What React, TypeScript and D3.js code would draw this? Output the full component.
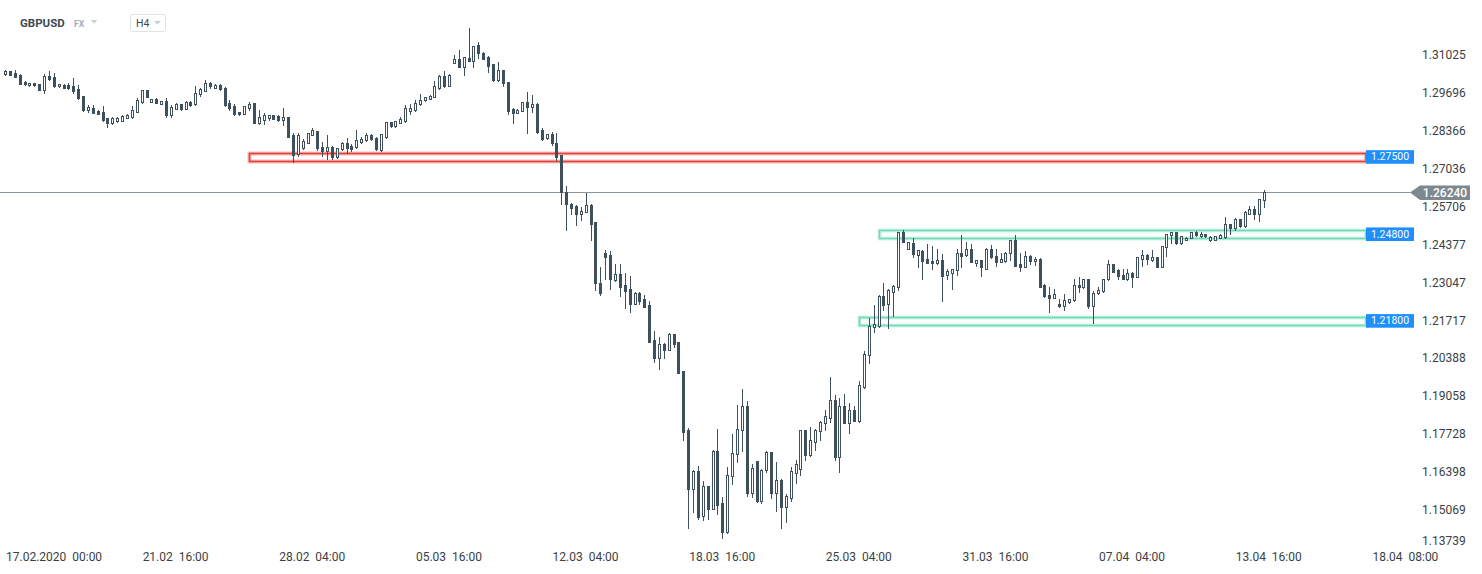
import React from 'react';
import * as d3 from 'd3';

// ---------- DATA ----------
const OPEN = [
1.3037,1.3046,1.3040,1.3033,1.3009,1.2997,1.3005,1.3001,1.2980,1.3029,
1.3026,1.2993,1.2999,1.2999,1.2994,1.2984,1.2959,1.2910,1.2919,1.2907,
1.2903,1.2881,1.2865,1.2872,1.2872,1.2883,1.2886,1.2904,1.2939,1.2979,
1.2939,1.2949,1.2932,1.2942,1.2892,1.2915,1.2931,1.2915,1.2940,1.2932,
1.2965,1.2978,1.3005,1.2988,1.2998,1.2988,1.2935,1.2924,1.2903,1.2898,
1.2916,1.2934,1.2865,1.2875,1.2883,1.2891,1.2889,1.2876,1.2885,1.2822,
1.2755,1.2777,1.2795,1.2823,1.2836,1.2780,1.2768,1.2780,1.2744,1.2772,
1.2796,1.2784,1.2779,1.2799,1.2804,1.2823,1.2813,1.2770,1.2815,1.2868,
1.2853,1.2866,1.2871,1.2907,1.2910,1.2930,1.2944,1.2950,1.2957,1.2987,
1.3029,1.2995,1.3076,1.3088,1.3062,1.3092,1.3083,1.3138,1.3111,1.3096,
1.3071,1.3015,1.3050,1.3008,1.2915,1.2900,1.2907,1.2938,1.2922,1.2933,
1.2840,1.2811,1.2826,1.2796,1.2752,1.2623,1.2582,1.2573,1.2547,1.2553,
1.2576,1.2516,1.2305,1.2408,1.2401,1.2313,1.2334,1.2296,1.2281,1.2231,
1.2267,1.2247,1.2225,1.2103,1.2042,1.2091,1.2070,1.2124,1.2096,1.1994,
1.1787,1.1582,1.1643,1.1485,1.1590,1.1512,1.1713,1.1533,1.1430,1.1625,
1.1705,1.1789,1.1873,1.1567,1.1678,1.1539,1.1649,1.1710,1.1567,1.1614,
1.1518,1.1550,1.1637,1.1652,1.1787,1.1699,1.1746,1.1784,1.1812,1.1831,
1.1892,1.1693,1.1871,1.1814,1.1857,1.1818,1.1937,1.2050,1.2149,1.2152,
1.2257,1.2229,1.2272,1.2288,1.2483,1.2424,1.2444,1.2403,1.2416,1.2387,
1.2380,1.2372,1.2383,1.2333,1.2337,1.2348,1.2407,1.2401,1.2424,1.2372,
1.2383,1.2354,1.2424,1.2397,1.2377,1.2380,1.2407,1.2453,1.2369,1.2360,
1.2397,1.2381,1.2389,1.2296,1.2263,1.2252,1.2231,1.2222,1.2237,1.2243,
1.2298,1.2288,1.2317,1.2223,1.2267,1.2275,1.2316,1.2369,1.2348,1.2333,
1.2317,1.2340,1.2325,1.2389,1.2401,1.2383,1.2393,1.2360,1.2428,1.2471,
1.2482,1.2442,1.2456,1.2463,1.2481,1.2468,1.2475,1.2454,1.2456,1.2463,
1.2465,1.2510,1.2497,1.2527,1.2503,1.2547,1.2562,1.2547,1.2594];

const HIGH = [
1.3051,1.3047,1.3050,1.3035,1.3012,1.3006,1.3006,1.3003,1.3036,1.3047,
1.3040,1.3003,1.3000,1.3004,1.3022,1.2998,1.2961,1.2927,1.2927,1.2909,
1.2924,1.2882,1.2884,1.2886,1.2891,1.2895,1.2924,1.2953,1.2981,1.2981,
1.2950,1.2952,1.2943,1.2952,1.2927,1.2935,1.2933,1.2942,1.2942,1.2995,
1.2988,1.3015,1.3008,1.3001,1.3000,1.2990,1.2947,1.2930,1.2905,1.2926,
1.2937,1.2936,1.2912,1.2900,1.2893,1.2893,1.2892,1.2916,1.2887,1.2830,
1.2830,1.2807,1.2830,1.2846,1.2838,1.2799,1.2822,1.2784,1.2777,1.2798,
1.2811,1.2791,1.2840,1.2816,1.2829,1.2825,1.2814,1.2827,1.2869,1.2869,
1.2872,1.2886,1.2927,1.2933,1.2945,1.2966,1.2957,1.2963,1.3012,1.3033,
1.3048,1.3035,1.3104,1.3121,1.3097,1.3198,1.3136,1.3149,1.3113,1.3098,
1.3073,1.3079,1.3052,1.3010,1.2916,1.2914,1.2940,1.2974,1.2963,1.2935,
1.2846,1.2827,1.2834,1.2828,1.2754,1.2643,1.2584,1.2576,1.2571,1.2618,
1.2582,1.2517,1.2358,1.2419,1.2415,1.2369,1.2369,1.2337,1.2327,1.2271,
1.2272,1.2263,1.2240,1.2135,1.2114,1.2093,1.2127,1.2125,1.2097,1.1996,
1.1796,1.1649,1.1660,1.1608,1.1592,1.1716,1.1790,1.1553,1.1658,1.1773,
1.1874,1.1930,1.1890,1.1670,1.1680,1.1650,1.1714,1.1711,1.1674,1.1615,
1.1562,1.1658,1.1683,1.1789,1.1789,1.1798,1.1791,1.1819,1.1857,1.1974,
1.1910,1.1901,1.1913,1.1882,1.1871,1.1960,1.2065,1.2182,1.2225,1.2261,
1.2304,1.2281,1.2295,1.2484,1.2490,1.2447,1.2463,1.2420,1.2418,1.2440,
1.2434,1.2424,1.2404,1.2354,1.2353,1.2421,1.2471,1.2446,1.2440,1.2385,
1.2385,1.2426,1.2436,1.2421,1.2409,1.2411,1.2455,1.2471,1.2407,1.2416,
1.2401,1.2393,1.2391,1.2300,1.2288,1.2284,1.2249,1.2264,1.2248,1.2319,
1.2323,1.2318,1.2318,1.2275,1.2288,1.2318,1.2383,1.2371,1.2352,1.2352,
1.2352,1.2342,1.2395,1.2418,1.2404,1.2418,1.2395,1.2434,1.2476,1.2483,
1.2483,1.2469,1.2465,1.2483,1.2485,1.2482,1.2476,1.2467,1.2470,1.2475,
1.2535,1.2511,1.2533,1.2529,1.2556,1.2574,1.2574,1.2598,1.2629];

const LOW = [
1.3034,1.3033,1.3026,1.3001,1.2998,1.2995,1.2994,1.2979,1.2971,1.3015,
1.2990,1.2990,1.2986,1.2984,1.2971,1.2949,1.2908,1.2904,1.2899,1.2897,
1.2872,1.2849,1.2861,1.2869,1.2871,1.2881,1.2882,1.2902,1.2935,1.2955,
1.2937,1.2934,1.2930,1.2886,1.2886,1.2913,1.2910,1.2913,1.2926,1.2929,
1.2961,1.2976,1.2988,1.2986,1.2981,1.2926,1.2912,1.2894,1.2893,1.2897,
1.2912,1.2864,1.2860,1.2862,1.2875,1.2878,1.2873,1.2859,1.2814,1.2727,
1.2750,1.2772,1.2793,1.2821,1.2770,1.2748,1.2740,1.2738,1.2742,1.2770,
1.2760,1.2766,1.2777,1.2795,1.2802,1.2805,1.2771,1.2768,1.2813,1.2852,
1.2852,1.2865,1.2867,1.2898,1.2908,1.2928,1.2942,1.2948,1.2955,1.2985,
1.2992,1.2993,1.3074,1.3060,1.3033,1.3081,1.3062,1.3091,1.3088,1.3042,
1.3013,1.3013,1.2993,1.2895,1.2863,1.2899,1.2906,1.2828,1.2904,1.2828,
1.2805,1.2809,1.2787,1.2734,1.2582,1.2489,1.2547,1.2506,1.2524,1.2551,
1.2455,1.2278,1.2263,1.2319,1.2284,1.2311,1.2257,1.2215,1.2202,1.2229,
1.2229,1.2218,1.2095,1.2026,1.2003,1.2042,1.2068,1.2079,1.1986,1.1752,
1.1445,1.1500,1.1477,1.1471,1.1477,1.1510,1.1494,1.1410,1.1428,1.1600,
1.1675,1.1714,1.1556,1.1553,1.1537,1.1531,1.1640,1.1548,1.1503,1.1444,
1.1465,1.1539,1.1602,1.1629,1.1681,1.1697,1.1716,1.1752,1.1789,1.1816,
1.1684,1.1640,1.1812,1.1777,1.1818,1.1817,1.1935,1.2024,1.2132,1.2150,
1.2210,1.2144,1.2187,1.2278,1.2446,1.2423,1.2395,1.2360,1.2317,1.2372,
1.2354,1.2370,1.2241,1.2316,1.2284,1.2331,1.2358,1.2397,1.2376,1.2363,
1.2328,1.2353,1.2391,1.2363,1.2376,1.2378,1.2383,1.2362,1.2346,1.2358,
1.2369,1.2366,1.2288,1.2256,1.2202,1.2250,1.2220,1.2210,1.2235,1.2241,
1.2272,1.2286,1.2217,1.2163,1.2265,1.2273,1.2314,1.2341,1.2317,1.2317,
1.2313,1.2288,1.2323,1.2363,1.2369,1.2382,1.2358,1.2358,1.2399,1.2442,
1.2440,1.2440,1.2454,1.2461,1.2469,1.2466,1.2466,1.2452,1.2454,1.2461,
1.2463,1.2475,1.2489,1.2501,1.2501,1.2545,1.2527,1.2521,1.2571];

const CLOSE = [
1.3047,1.3034,1.3027,1.3002,1.3000,1.3005,1.2997,1.2981,1.3029,1.3019,
1.2993,1.3001,1.2988,1.2987,1.2978,1.2951,1.2910,1.2920,1.2900,1.2898,
1.2875,1.2865,1.2882,1.2882,1.2889,1.2893,1.2910,1.2945,1.2979,1.2957,
1.2949,1.2935,1.2942,1.2892,1.2920,1.2932,1.2913,1.2940,1.2929,1.2969,
1.2984,1.3005,1.2993,1.2998,1.2983,1.2927,1.2918,1.2896,1.2895,1.2924,
1.2933,1.2865,1.2884,1.2892,1.2891,1.2879,1.2875,1.2884,1.2816,1.2751,
1.2822,1.2800,1.2828,1.2839,1.2776,1.2766,1.2780,1.2744,1.2776,1.2796,
1.2778,1.2772,1.2805,1.2808,1.2823,1.2807,1.2773,1.2826,1.2868,1.2853,
1.2870,1.2878,1.2916,1.2919,1.2935,1.2947,1.2956,1.2961,1.2994,1.3029,
1.2994,1.3033,1.3088,1.3062,1.3095,1.3083,1.3135,1.3109,1.3090,1.3065,
1.3015,1.3050,1.3004,1.2907,1.2900,1.2912,1.2938,1.2922,1.2933,1.2834,
1.2808,1.2826,1.2793,1.2746,1.2623,1.2582,1.2567,1.2547,1.2555,1.2576,
1.2512,1.2302,1.2269,1.2395,1.2316,1.2334,1.2290,1.2276,1.2231,1.2269,
1.2241,1.2220,1.2097,1.2041,1.2091,1.2070,1.2124,1.2091,1.1988,1.1781,
1.1582,1.1643,1.1482,1.1590,1.1512,1.1713,1.1526,1.1430,1.1629,1.1708,
1.1793,1.1873,1.1567,1.1656,1.1539,1.1649,1.1710,1.1567,1.1614,1.1518,
1.1555,1.1643,1.1667,1.1787,1.1699,1.1752,1.1789,1.1817,1.1836,1.1892,
1.1693,1.1871,1.1814,1.1857,1.1819,1.1945,1.2053,1.2152,1.2158,1.2257,
1.2225,1.2278,1.2293,1.2483,1.2448,1.2446,1.2404,1.2418,1.2381,1.2375,
1.2372,1.2383,1.2328,1.2345,1.2351,1.2407,1.2399,1.2424,1.2377,1.2383,
1.2358,1.2424,1.2393,1.2377,1.2386,1.2409,1.2453,1.2363,1.2358,1.2397,
1.2381,1.2389,1.2290,1.2257,1.2251,1.2264,1.2222,1.2243,1.2247,1.2298,
1.2288,1.2317,1.2223,1.2270,1.2278,1.2317,1.2369,1.2342,1.2328,1.2319,
1.2340,1.2325,1.2393,1.2401,1.2387,1.2393,1.2360,1.2432,1.2475,1.2482,
1.2442,1.2468,1.2463,1.2482,1.2471,1.2475,1.2468,1.2465,1.2469,1.2472,
1.2510,1.2495,1.2527,1.2503,1.2553,1.2562,1.2545,1.2597,1.2624];

const PRICE_TICKS = [1.13739, 1.15069, 1.16398, 1.17728, 1.19058, 1.20388, 1.21717,
  1.23047, 1.24377, 1.25706, 1.27036, 1.28366, 1.29696, 1.31025];

const TIME_LABELS = ['17.02.2020  00:00', '21.02  16:00', '28.02  04:00', '05.03  16:00',
  '12.03  04:00', '18.03  16:00', '25.03  04:00', '31.03  16:00', '07.04  04:00',
  '13.04  16:00', '18.04  08:00'];
const TIME_LABEL_INDEX = [0, 28, 56, 84, 112, 140, 168, 196, 224, 252, 280];

const ZONE_LABELS = [1.275, 1.248, 1.218];
const ZONE_TOP = [1.2760, 1.2489, 1.2185];
const ZONE_BOTTOM = [1.2731, 1.2460, 1.2156];
const ZONE_START = [50, 179, 175];
const ZONE_KIND = ['resistance', 'support', 'support'];

const LAST_PRICE = 1.2624;

// ---------- STYLE ----------
const CANDLE = '#3f505d';
const FONT = 'Roboto, "Noto Sans", Arial, sans-serif';

export default function App() {
  const W = 1482;
  const H = 574;
  const x = d3.scaleLinear().domain([0, 280]).range([5, 5 + 280 * 4.88]);
  const y = d3
    .scaleLinear()
    .domain([PRICE_TICKS[0], PRICE_TICKS[PRICE_TICKS.length - 1]])
    .range([548, 55.2]);
  const fmt = d3.format('.5f');

  const zoneRight = 1366;
  const lastY = Math.round(y(LAST_PRICE)) + 0.5;

  const candles = OPEN.map((o, i) => {
    const c = CLOSE[i];
    const cx = Math.round(x(i));
    const up = c >= o;
    const yTop = Math.round(y(Math.max(o, c)));
    const yBot = Math.round(y(Math.min(o, c)));
    const yH = Math.round(y(HIGH[i]));
    const yL = Math.round(y(LOW[i]));
    return (
      <g key={i}>
        <line x1={cx + 0.5} x2={cx + 0.5} y1={yH} y2={yL + 1} stroke={CANDLE} strokeWidth={1} />
        {up ? (
          <rect
            x={cx - 0.5}
            y={yTop + 0.5}
            width={2}
            height={Math.max(1, yBot - yTop)}
            fill="#ffffff"
            stroke={CANDLE}
            strokeWidth={1}
          />
        ) : (
          <rect x={cx - 1} y={yTop} width={3} height={Math.max(1, yBot - yTop + 1)} fill={CANDLE} />
        )}
      </g>
    );
  });

  return (
    <svg
      width={W}
      height={H}
      style={{ position: 'absolute', left: 0, top: 0, background: '#ffffff', fontFamily: FONT }}
    >
      <rect x={0} y={0} width={W} height={H} fill="#ffffff" />

      {/* header */}
      <text x={20} y={27} fontSize={11.5} fontWeight={700} fill="#3e4a53">GBPUSD</text>
      <text x={74} y={27} fontSize={8.5} fontWeight={700} fill="#a2aeb7">FX</text>
      <path d="M90.5,20 L97.5,20 L94,23.5 Z" fill="#c9cfd4" />
      <rect x={130.5} y={14.5} width={35} height={17} rx={2} fill="#ffffff" stroke="#dfe3e6" />
      <text x={136} y={27} fontSize={10.5} fill="#3e4a53">H4</text>
      <path d="M154,21 L161,21 L157.5,24.5 Z" fill="#c9cfd4" />

      {/* zones */}
      {ZONE_LABELS.map((p, k) => {
        const col = ZONE_KIND[k] === 'resistance' ? '#e5403b' : '#6fd9b9';
        const x0 = Math.round(x(ZONE_START[k])) + 0.5;
        const y0 = Math.round(y(ZONE_TOP[k])) + 0.5;
        const y1 = Math.round(y(ZONE_BOTTOM[k])) + 0.5;
        return (
          <g key={'z' + k}>
            <rect x={x0} y={y0} width={zoneRight - x0} height={y1 - y0} fill="none" stroke={col} strokeOpacity={0.35} strokeWidth={4} />
            <rect x={x0} y={y0} width={zoneRight - x0} height={y1 - y0} fill="none" stroke={col} strokeWidth={1.6} />
          </g>
        );
      })}

      {/* last price line */}
      <line x1={0} x2={1410} y1={lastY} y2={lastY} stroke="#8a969c" strokeWidth={1} />

      {/* candles */}
      {candles}

      {/* right axis labels */}
      {PRICE_TICKS.map((p, k) => (
        <text
          key={'t' + k}
          x={1422}
          y={Math.min(y(p), 541)}
          dominantBaseline="central"
          fontSize={12}
          fill="#3a3f44"
        >
          {fmt(p)}
        </text>
      ))}

      {/* zone labels */}
      {ZONE_LABELS.map((p, k) => {
        const yc = y((ZONE_TOP[k] + ZONE_BOTTOM[k]) / 2);
        return (
          <g key={'zl' + k}>
            <rect x={1366} y={yc - 6.8} width={48} height={13.6} fill="#1e8ffb" />
            <text x={1390} y={yc} dominantBaseline="central" textAnchor="middle" fontSize={10.5} fill="#ffffff">
              {fmt(p)}
            </text>
          </g>
        );
      })}

      {/* last price tag */}
      <path
        d={`M1410,${lastY} L1420,${lastY - 7} L1470,${lastY - 7} L1470,${lastY + 7.5} L1420,${lastY + 7.5} Z`}
        fill="#7d898f"
      />
      <text x={1445} y={lastY + 0.5} dominantBaseline="central" textAnchor="middle" fontSize={12} fontWeight={500} fill="#ffffff">
        {fmt(LAST_PRICE)}
      </text>

      {/* time axis labels */}
      {TIME_LABELS.map((t, k) => (
        <text
          key={'x' + k}
          x={x(TIME_LABEL_INDEX[k]) + 1}
          y={561}
          fontSize={12}
          fill="#3a3f44"
          style={{ whiteSpace: 'pre' }}
        >
          {t}
        </text>
      ))}
    </svg>
  );
}
